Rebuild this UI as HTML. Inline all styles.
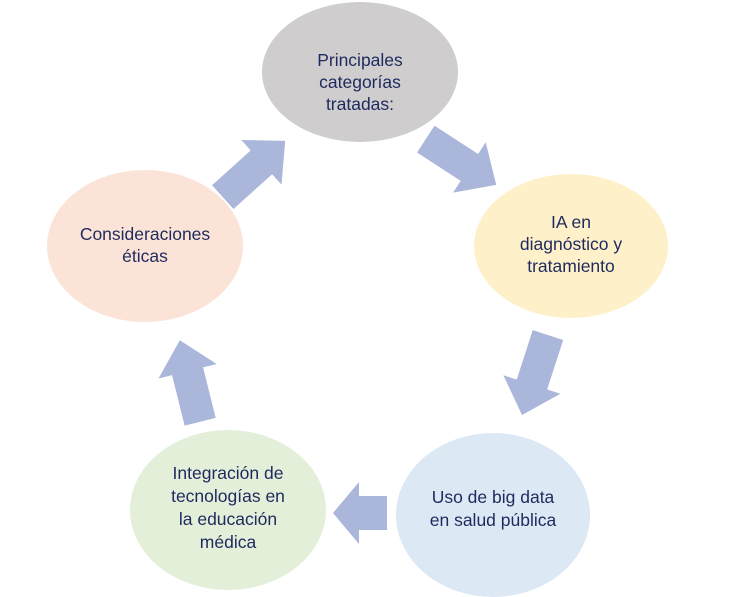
<!DOCTYPE html>
<html><head><meta charset="utf-8"><style>
html,body{margin:0;padding:0;background:#fff;}
svg{display:block;}
text{font-family:"Liberation Sans",sans-serif;font-size:17.5px;fill:#1e2a5e;text-anchor:middle;}
</style></head><body>
<svg width="747" height="597" viewBox="0 0 747 597">
<defs>
<polygon id="ar" points="-42,-16 10,-16 10,-30 42,0 10,30 10,16 -42,16" fill="#aab6da"/>
<polygon id="ab" points="-27,-17 1,-17 1,-31 27,0 1,31 1,17 -27,17" fill="#aab6da"/>
</defs>
<ellipse cx="360" cy="72" rx="98" ry="70" fill="#cfcdce"/>
<ellipse cx="571" cy="246" rx="97" ry="72" fill="#fef0c9"/>
<ellipse cx="493" cy="515" rx="97" ry="82" fill="#dde8f5"/>
<ellipse cx="228" cy="510" rx="98" ry="80" fill="#e3efd9"/>
<ellipse cx="145" cy="246" rx="98" ry="76" fill="#fbe4d7"/>
<use href="#ar" transform="translate(254,169) rotate(-42)"/>
<use href="#ar" transform="translate(461,162) rotate(33)"/>
<use href="#ar" transform="translate(535,375) rotate(108)"/>
<use href="#ab" transform="translate(360,513) rotate(180)"/>
<use href="#ar" transform="translate(190,381) rotate(-104)"/>
<text x="360" y="66">Principales</text>
<text x="360" y="88">categorías</text>
<text x="360" y="110">tratadas:</text>
<text x="571" y="228">IA en</text>
<text x="571" y="250">diagnóstico y</text>
<text x="571" y="272">tratamiento</text>
<text x="493" y="503">Uso de big data</text>
<text x="493" y="526">en salud pública</text>
<text x="228" y="479">Integración de</text>
<text x="228" y="502">tecnologías en</text>
<text x="228" y="525">la educación</text>
<text x="228" y="548">médica</text>
<text x="145" y="240">Consideraciones</text>
<text x="145" y="262">éticas</text>
</svg>
</body></html>
